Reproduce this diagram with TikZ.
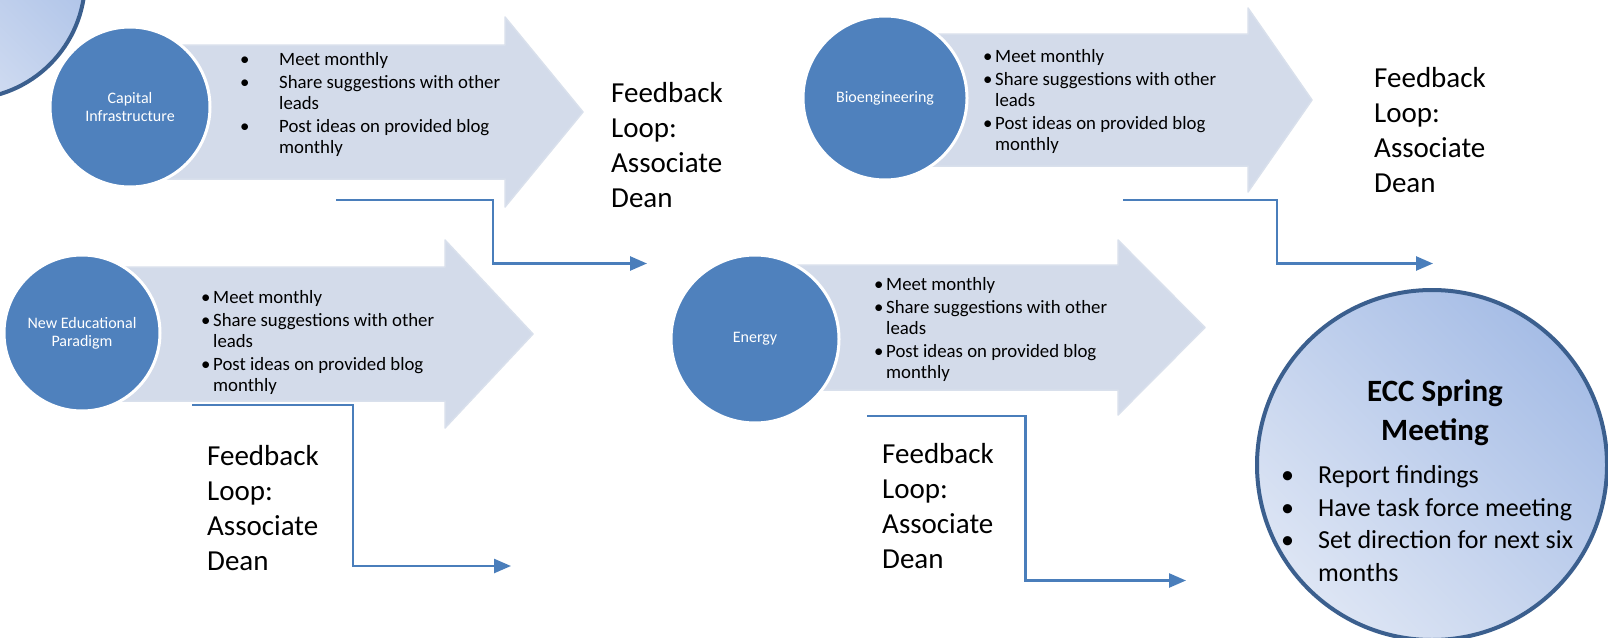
\documentclass[tikz,border=0pt]{standalone}
\usepackage{fontspec}
\setmainfont{Carlito}
\usetikzlibrary{arrows.meta}
\definecolor{arrowfill}{HTML}{D3DBEA}
\definecolor{arrowedge}{HTML}{D9E0EC}
\definecolor{circfill}{HTML}{4F81BD}
\definecolor{fbline}{HTML}{4A7EBB}
\definecolor{bigborder}{HTML}{3B5F8E}
\definecolor{biglight}{HTML}{DDE5F4}
\definecolor{bigdark}{HTML}{A6BDE6}
% #1 left x, #2 centre y, #3 body half height, #4 head half height, #5 head back x, #6 tip x
\newcommand{\fatarrow}[6]{%
  \filldraw[fill=arrowfill,draw=arrowedge,line width=1.5pt,line join=round]
    (#1,#2-#3) -- (#5,#2-#3) -- (#5,#2-#4) -- (#6,#2) -- (#5,#2+#4)
    -- (#5,#2+#3) -- (#1,#2+#3) -- cycle;}
\tikzset{
  smallcirc/.style={circle,fill=circfill,draw=white,line width=3pt,
    minimum size=#1,inner sep=0pt,text=white,align=center,
    font=\fontsize{16}{18}\selectfont},
  bigcirc/.style={circle,minimum size=#1,inner sep=0pt,draw=bigborder,
    line width=4pt,top color=bigdark,bottom color=biglight,shading angle=-45},
  listtext/.style={inner sep=0pt,anchor=north west,
    font=\fontsize{18.8}{21}\selectfont},
  fbtext/.style={inner sep=0pt,anchor=north west,align=left,
    font=\fontsize{29}{35}\selectfont},
  fb/.style={draw=fbline,line width=2.5pt,-{Triangle[length=17pt,width=14pt]}},
}
\newcommand{\bitem}[1]{\textbullet & #1\\[2pt]}
\begin{document}
\begin{tikzpicture}[x=1pt,y=-1pt]
\useasboundingbox (0,0) rectangle (1608,637);
\fill[white] (0,0) rectangle (1608,637);

% previous meeting circle (cut off at top left)
\node[bigcirc=238pt] (prev) at (-34,-20) {};

% arrows
\fatarrow{130}{112}{67}{95}{505}{583}
\fatarrow{885}{100}{66}{92}{1248}{1312}
\fatarrow{82}{334}{67}{94}{445}{533}
\fatarrow{755}{327.5}{62.5}{87.5}{1118}{1205}

% circles
\node[smallcirc=160pt] (ci) at (130,107) {Capital\\Infrastructure};
\node[smallcirc=164pt] (bio) at (885,98) {Bioengineering};
\node[smallcirc=156pt] (nep) at (82,333) {New Educational\\Paradigm};
\node[smallcirc=168pt] (en) at (755,339) {Energy};

% bullet lists
\node[listtext] (ci-list) at (240,51) {\begin{tabular}{@{}p{39pt}@{}l@{}}
\bitem{Meet monthly}
\textbullet & Share suggestions with other\\ & leads\\[2pt]
\textbullet & Post ideas on provided blog\\ & monthly
\end{tabular}};
\node[listtext] (bio-list) at (983,48) {\begin{tabular}{@{}p{12pt}@{}l@{}}
\bitem{Meet monthly}
\textbullet & Share suggestions with other\\ & leads\\[2pt]
\textbullet & Post ideas on provided blog\\ & monthly
\end{tabular}};
\node[listtext] (nep-list) at (201,289) {\begin{tabular}{@{}p{12pt}@{}l@{}}
\bitem{Meet monthly}
\textbullet & Share suggestions with other\\ & leads\\[2pt]
\textbullet & Post ideas on provided blog\\ & monthly
\end{tabular}};
\node[listtext] (en-list) at (874,276) {\begin{tabular}{@{}p{12pt}@{}l@{}}
\bitem{Meet monthly}
\textbullet & Share suggestions with other\\ & leads\\[2pt]
\textbullet & Post ideas on provided blog\\ & monthly
\end{tabular}};

% feedback texts
\node[fbtext] (ci-fb) at (611,82) {Feedback\\Loop:\\Associate\\Dean};
\node[fbtext] (bio-fb) at (1374,67) {Feedback\\Loop:\\Associate\\Dean};
\node[fbtext] (nep-fb) at (207,445) {Feedback\\Loop:\\Associate\\Dean};
\node[fbtext] (en-fb) at (882,443) {Feedback\\Loop:\\Associate\\Dean};

% feedback connectors
\coordinate (ci-s) at (336,200);  \coordinate (ci-m) at (493,263.5);  \coordinate (ci-e) at (647,263.5);
\coordinate (bio-s) at (1123,200); \coordinate (bio-m) at (1277,263.5); \coordinate (bio-e) at (1433,263.5);
\coordinate (nep-s) at (192,405); \coordinate (nep-m) at (353,566);   \coordinate (nep-e) at (511,566);
\coordinate (en-s) at (867,416);  \coordinate (en-m) at (1025.5,580.5); \coordinate (en-e) at (1186,580.5);
\draw[fb] (ci-s) -| (ci-m) -- (ci-e);
\draw[fb] (bio-s) -| (bio-m) -- (bio-e);
\draw[fb] (nep-s) -| (nep-m) -- (nep-e);
\draw[fb] (en-s) -| (en-m) -- (en-e);

% ECC spring meeting
\node[bigcirc=350pt] (ecc) at (1432,465) {};
\node[inner sep=0pt,anchor=north,align=center,
  font=\fontsize{31}{39}\selectfont\bfseries] (ecc-title) at (1435,380) {ECC Spring\\Meeting};
\node[inner sep=0pt,anchor=north west,font=\fontsize{26}{32.5}\selectfont] (ecc-list) at (1281,461)
 {\begin{tabular}{@{}p{37pt}@{}l@{}}
 \textbullet & Report findings\\
 \textbullet & Have task force meeting\\
 \textbullet & Set direction for next six\\
 & months
 \end{tabular}};
\end{tikzpicture}
\end{document}
